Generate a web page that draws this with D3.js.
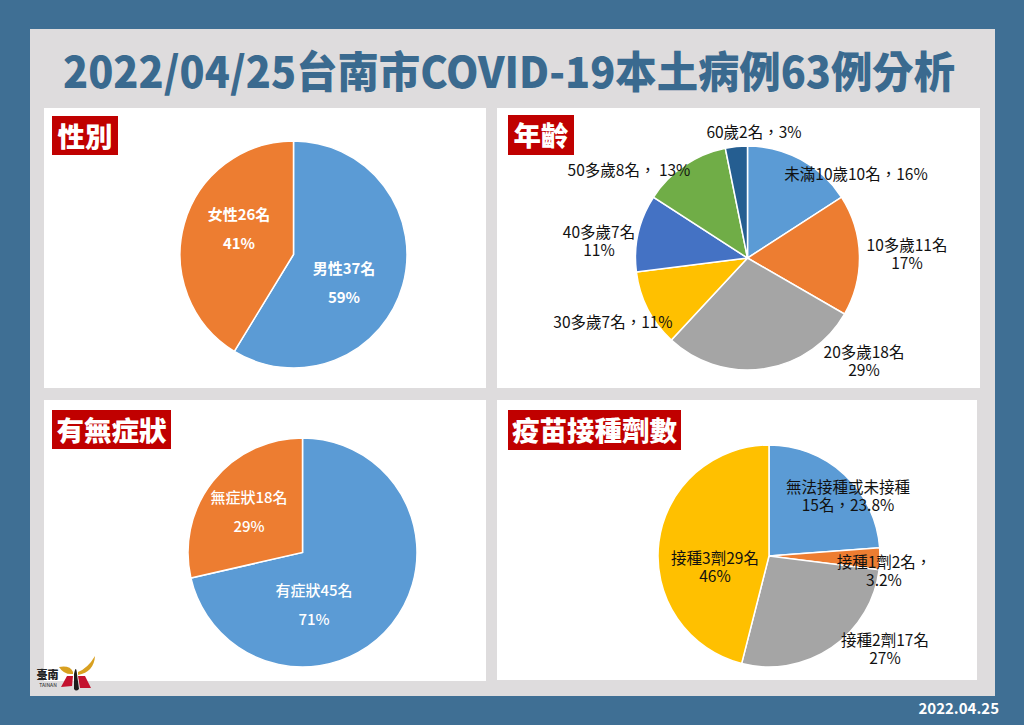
<!DOCTYPE html>
<html>
<head>
<meta charset="utf-8">
<script src="https://cdn.jsdelivr.net/npm/d3@7"></script>
<style>
  html, body { margin: 0; padding: 0; background: #3f6f94; }
  svg { display: block; }
  text { font-family: "Noto Sans CJK TC", "Noto Sans", sans-serif; }
</style>
</head>
<body>
<svg id="chart" width="1024" height="725"></svg>
<script>
// data
const titleText = "2022/04/25台南市COVID-19本土病例63例分析";
const dateText = "2022.04.25";

const sexValues = [37, 26];
const sexLabels = [["男性37名", "59%"], ["女性26名", "41%"]];

const ageValues = [10, 11, 18, 7, 7, 8, 2];
const ageLabels = [
  ["未滿10歲10名，16%"],
  ["10多歲11名", "17%"],
  ["20多歲18名", "29%"],
  ["30多歲7名，11%"],
  ["40多歲7名", "11%"],
  ["50多歲8名， 13%"],
  ["60歲2名，3%"]
];

const symptomValues = [45, 18];
const symptomLabels = [["有症狀45名", "71%"], ["無症狀18名", "29%"]];

const vaccineValues = [15, 2, 17, 29];
const vaccineLabels = [
  ["無法接種或未接種", "15名，23.8%"],
  ["接種1劑2名，", "3.2%"],
  ["接種2劑17名", "27%"],
  ["接種3劑29名", "46%"]
];

// layout
const officeColors = ["#5b9bd5", "#ed7d31", "#a5a5a5", "#ffc000", "#4472c4", "#70ad47", "#255e91"];
const color = d3.scaleOrdinal().domain(d3.range(7)).range(officeColors);

const panels = [
  { box: [44, 108, 442, 280], badge: [52, 116, 66, 39], name: "性別", cx: 293.5, cy: 254.5, r: 113.5,
    values: sexValues, labels: sexLabels, at: [[344, 268.5], [239, 214.5]],
    gap: 29, size: 15, weight: 700, fill: "#fff" },
  { box: [497, 108, 483, 280], badge: [508, 115, 66, 40], name: "年齡", cx: 747.5, cy: 258, r: 112,
    values: ageValues, labels: ageLabels,
    at: [[856, 174], [907, 245], [864, 352], [613, 322], [599, 232], [629, 170], [754, 132]],
    gap: 18.5, size: 15.5, weight: 400, fill: "#111" },
  { box: [44, 400, 442, 281], badge: [52, 410, 119, 39], name: "有無症狀", cx: 302.5, cy: 552.5, r: 114.5,
    values: symptomValues, labels: symptomLabels, at: [[314, 590.5], [249, 497.5]],
    gap: 29, size: 15, weight: 500, fill: "#fff" },
  { box: [497, 400, 480, 280], badge: [508, 410, 173, 40], name: "疫苗接種劑數", cx: 769, cy: 556, r: 111,
    values: vaccineValues, labels: vaccineLabels,
    at: [[848, 487], [884, 562], [885, 640], [715, 558]],
    gap: 18.5, size: 15.5, weight: 400, fill: "#111" }
];

const svg = d3.select("#chart");

svg.append("rect").attr("x", 30).attr("y", 29).attr("width", 965).attr("height", 667).attr("fill", "#dedcdd");

svg.append("text")
  .attr("x", 63).attr("y", 88)
  .attr("font-size", 43).attr("font-weight", 900)
  .attr("fill", "#3a6a8f")
  .attr("textLength", 892).attr("lengthAdjust", "spacingAndGlyphs")
  .text(titleText);

svg.append("text")
  .attr("x", 999).attr("y", 714)
  .attr("text-anchor", "end")
  .attr("font-size", 15).attr("font-weight", 700)
  .attr("fill", "#fff")
  .text(dateText);

const pie = d3.pie().sort(null).value(d => d);

panels.forEach(p => {
  const g = svg.append("g");

  g.append("rect")
    .attr("x", p.box[0]).attr("y", p.box[1])
    .attr("width", p.box[2]).attr("height", p.box[3])
    .attr("fill", "#fff");

  const arc = d3.arc().innerRadius(0).outerRadius(p.r);
  g.append("g")
    .attr("transform", `translate(${p.cx},${p.cy})`)
    .selectAll("path")
    .data(pie(p.values))
    .enter()
    .append("path")
    .attr("d", arc)
    .attr("fill", (d, i) => color(i))
    .attr("stroke", "#fff")
    .attr("stroke-width", 1.5);

  g.append("rect")
    .attr("x", p.badge[0]).attr("y", p.badge[1])
    .attr("width", p.badge[2]).attr("height", p.badge[3])
    .attr("fill", "#c00000");
  g.append("text")
    .attr("x", p.badge[0] + p.badge[2] / 2).attr("y", p.badge[1] + p.badge[3] / 2 - 1)
    .attr("text-anchor", "middle").attr("dominant-baseline", "central")
    .attr("font-size", 27.5).attr("font-weight", 900)
    .attr("fill", "#fff")
    .text(p.name);

  // one text per slice, second line as a tspan
  p.labels.forEach((lines, i) => {
    const label = g.append("text")
      .attr("x", p.at[i][0]).attr("y", p.at[i][1] + p.size * 0.36)
      .attr("text-anchor", "middle")
      .attr("font-size", p.size).attr("font-weight", p.weight)
      .attr("fill", p.fill);
    lines.forEach((line, j) => {
      label.append("tspan")
        .attr("x", p.at[i][0])
        .attr("dy", j === 0 ? 0 : p.gap)
        .text(line);
    });
  });
});

// logo, bottom left
const logo = svg.append("g");
logo.append("text").attr("x", 47.5).attr("y", 679)
  .attr("text-anchor", "middle").attr("font-size", 11).attr("font-weight", 900)
  .attr("fill", "#222").text("臺南");
logo.append("text").attr("x", 48).attr("y", 687)
  .attr("text-anchor", "middle").attr("font-size", 5).attr("fill", "#222").text("TAINAN");
logo.append("path").attr("d", "M59 667 Q70 665 73 672 L73 674 Q64 675 59 667Z").attr("fill", "#d8a020");
logo.append("path").attr("d", "M78 672 Q88 668 95 656 Q94 672 78 675Z").attr("fill", "#d8a020");
logo.append("path").attr("d", "M67 676 L73 676 L72 686 L61 687Z").attr("fill", "#c4122f");
logo.append("path").attr("d", "M78 676 L85 676 L91 688 L80 688Z").attr("fill", "#c4122f");
logo.append("path").attr("d", "M74 674 Q76 664 77 674 L79 689 Q76 692 74 689Z").attr("fill", "#1c1c1c");
</script>
</body>
</html>
